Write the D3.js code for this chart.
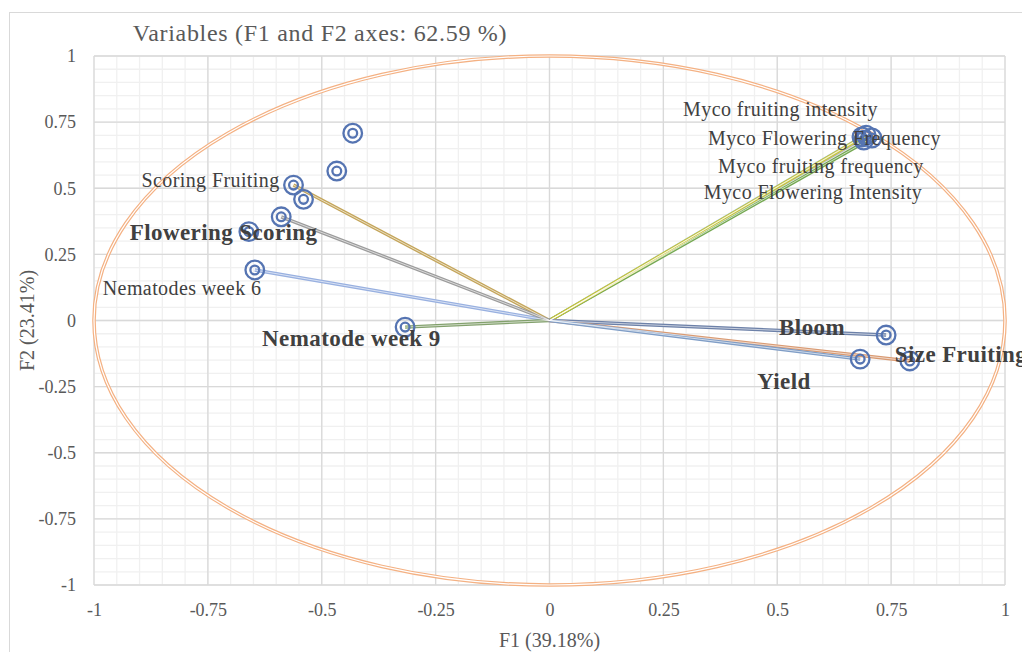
<!DOCTYPE html>
<meta charset="utf-8">
<script src="https://d3js.org/d3.v7.min.js"></script>
<style>
  body { margin: 0; background: #fff; }
  text { font-family: "Liberation Serif", "Times New Roman", serif; }
</style>
<div id="my_dataviz"></div>
<script>

// variables (F1, F2 loadings)
var names = ["Myco Flowering Intensity", "Myco fruiting frequency", "Myco Flowering Frequency", "Myco fruiting intensity",
             "Scoring Fruiting", "Flowering Scoring", "Nematodes week 6", "Nematode week 9",
             "Bloom", "Size Fruiting", "Yield",
             "v12", "v13", "v14", "v15"];
var f1 = [0.690, 0.686, 0.708, 0.695, -0.562, -0.660, -0.647, -0.317, 0.739, 0.791, 0.682, -0.432, -0.467, -0.540, -0.589];
var f2 = [0.682, 0.694, 0.690, 0.701, 0.512, 0.336, 0.191, -0.025, -0.055, -0.153, -0.146, 0.708, 0.565, 0.458, 0.392];
var shownLabels = ["Myco fruiting intensity", "Myco Flowering Frequency", "Myco fruiting frequency", "Myco Flowering Intensity",
                   "Scoring Fruiting", "Flowering Scoring", "Nematodes week 6", "Nematode week 9", "Bloom", "Size Fruiting", "Yield"];
var boldLabels = ["Flowering Scoring", "Nematode week 9", "Bloom", "Size Fruiting", "Yield"];
var ticks = [-1, -0.75, -0.5, -0.25, 0, 0.25, 0.5, 0.75, 1];

// line colours per variable (no entry = no vector drawn)
var lineColor = {
  "Myco Flowering Intensity": "#b4b4b4",
  "Myco fruiting frequency": "#9fc3e6",
  "Myco Flowering Frequency": "#74a851",
  "Myco fruiting intensity": "#c6c43c",
  "Scoring Fruiting": "#c4a55a",
  "v15": "#9c9c9c",
  "Nematodes week 6": "#98b0e0",
  "Nematode week 9": "#82a06c",
  "Bloom": "#6d81a8",
  "Size Fruiting": "#d99a72",
  "Yield": "#7f9dc6"
};
// label offsets from the point, px (text start, baseline)
var labelOffset = {
  "Myco fruiting intensity": [-183, -19],
  "Myco Flowering Frequency": [-164, 7],
  "Myco fruiting frequency": [-144, 36],
  "Myco Flowering Intensity": [-160, 59],
  "Scoring Fruiting": [-152, 2],
  "Flowering Scoring": [-119, 8],
  "Nematodes week 6": [-152, 25],
  "Nematode week 9": [-143, 19],
  "Bloom": [-107, 0],
  "Size Fruiting": [-15, 1],
  "Yield": [-103, 30]
};

var W = 1022, H = 652;
var margin = {top: 56, right: 17, bottom: 67, left: 94},
    width = W - margin.left - margin.right,
    height = H - margin.top - margin.bottom;

var root = d3.select("#my_dataviz").append("svg")
    .attr("width", W).attr("height", H);

// chart border
root.append("rect")
    .attr("x", 9.5).attr("y", 12.5).attr("width", W + 20).attr("height", H + 20)
    .attr("fill", "none").attr("stroke", "#d9d9d9").attr("stroke-width", 1);

root.append("text")
    .attr("x", 320).attr("y", 41)
    .attr("text-anchor", "middle")
    .style("font-size", "24px").style("letter-spacing", "0.7px").style("fill", "#595959")
    .text("Variables (F1 and F2 axes: 62.59 %)");

var svg = root.append("g").attr("transform", "translate(" + margin.left + "," + margin.top + ")");

var x = d3.scaleLinear().domain([-1, 1]).range([0, width]);
var y = d3.scaleLinear().domain([-1, 1]).range([height, 0]);

// minor grid
var minor = d3.range(-1, 1.0001, 0.05).map(function(d) { return Math.round(d * 100) / 100; });
svg.append("g").selectAll("line.mx").data(minor).enter().append("line")
    .attr("x1", function(d) { return x(d); }).attr("x2", function(d) { return x(d); })
    .attr("y1", 0).attr("y2", height)
    .attr("stroke", "#f0f0f0").attr("stroke-width", 1.3);
svg.append("g").selectAll("line.my").data(minor).enter().append("line")
    .attr("y1", function(d) { return y(d); }).attr("y2", function(d) { return y(d); })
    .attr("x1", 0).attr("x2", width)
    .attr("stroke", "#f0f0f0").attr("stroke-width", 1.3);

// major grid
svg.append("g").selectAll("line").data(ticks).enter().append("line")
    .attr("x1", function(d) { return x(d); }).attr("x2", function(d) { return x(d); })
    .attr("y1", 0).attr("y2", height)
    .attr("stroke", "#d9d9d9").attr("stroke-width", 1.3);
svg.append("g").selectAll("line").data(ticks).enter().append("line")
    .attr("y1", function(d) { return y(d); }).attr("y2", function(d) { return y(d); })
    .attr("x1", 0).attr("x2", width)
    .attr("stroke", "#d9d9d9").attr("stroke-width", 1.3);

// axes (labels only)
var fmt = function(d) { return String(d); };
var xAxis = svg.append("g").attr("transform", "translate(0," + height + ")")
    .call(d3.axisBottom(x).tickValues(ticks).tickFormat(fmt).tickSize(0).tickPadding(18));
var yAxis = svg.append("g")
    .call(d3.axisLeft(y).tickValues(ticks).tickFormat(fmt).tickSize(0).tickPadding(18));
[xAxis, yAxis].forEach(function(a) {
  a.select(".domain").remove();
  a.selectAll("text").style("font-family", "Liberation Serif").style("font-size", "18px").style("fill", "#595959");
});

root.append("text")
    .attr("x", margin.left + width / 2).attr("y", 647)
    .attr("text-anchor", "middle")
    .style("font-size", "20px").style("fill", "#595959")
    .text("F1 (39.18%)");
root.append("text")
    .attr("transform", "translate(34," + (margin.top + height / 2) + ") rotate(-90)")
    .attr("text-anchor", "middle")
    .style("font-size", "20px").style("fill", "#595959")
    .text("F2 (23.41%)");

// correlation circle (double line)
var circ = svg.append("g");
circ.append("ellipse")
    .attr("cx", x(0)).attr("cy", y(0)).attr("rx", x(1) - x(0)).attr("ry", y(0) - y(1))
    .attr("fill", "none").attr("stroke", "#f4b183").attr("stroke-width", 3.6);
circ.append("ellipse")
    .attr("cx", x(0)).attr("cy", y(0)).attr("rx", x(1) - x(0)).attr("ry", y(0) - y(1))
    .attr("fill", "none").attr("stroke", "#ffffff").attr("stroke-width", 1.2);

var data = names.map(function(n, i) { return {name: n, f1: f1[i], f2: f2[i]}; });

// vectors (double lines)
var vec = data.filter(function(d) { return lineColor[d.name]; });
svg.append("g").selectAll("line").data(vec).enter().append("line")
    .attr("x1", x(0)).attr("y1", y(0))
    .attr("x2", function(d) { return x(d.f1); }).attr("y2", function(d) { return y(d.f2); })
    .attr("stroke", function(d) { return lineColor[d.name]; }).attr("stroke-width", 3.4);
svg.append("g").selectAll("line").data(vec).enter().append("line")
    .attr("x1", x(0)).attr("y1", y(0))
    .attr("x2", function(d) { return x(d.f1); }).attr("y2", function(d) { return y(d.f2); })
    .attr("stroke", "#ffffff").attr("stroke-width", 0.9).attr("stroke-opacity", 0.7);

// points (double circle markers)
var pts = svg.append("g").selectAll("g").data(data).enter().append("g")
    .attr("transform", function(d) { return "translate(" + x(d.f1) + "," + y(d.f2) + ")"; });
pts.append("circle").attr("r", 9.3).attr("fill", "none").attr("stroke", "#5574b2").attr("stroke-width", 2.3);
pts.append("circle").attr("r", 4.4).attr("fill", "none").attr("stroke", "#5574b2").attr("stroke-width", 2.3);

// labels
svg.append("g").selectAll("text").data(data.filter(function(d) { return shownLabels.indexOf(d.name) >= 0; }))
  .enter().append("text")
    .attr("x", function(d) { return x(d.f1) + labelOffset[d.name][0]; })
    .attr("y", function(d) { return y(d.f2) + labelOffset[d.name][1]; })
    .style("font-size", function(d) { return boldLabels.indexOf(d.name) >= 0 ? "23px" : "20px"; })
    .style("letter-spacing", "0.4px")
    .style("font-weight", function(d) { return boldLabels.indexOf(d.name) >= 0 ? "bold" : "normal"; })
    .style("fill", "#404040")
    .text(function(d) { return d.name; });

</script>
